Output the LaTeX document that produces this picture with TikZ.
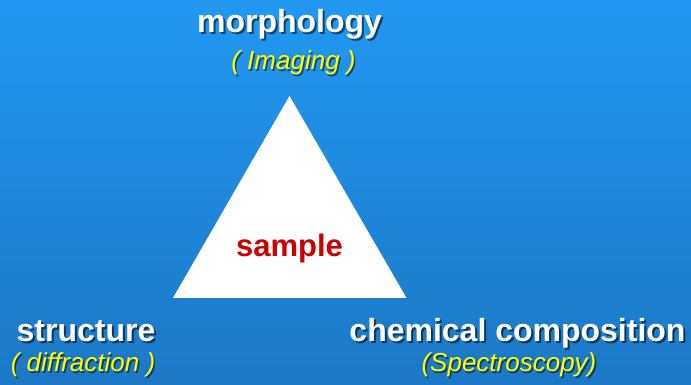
\documentclass[tikz,border=0pt]{standalone}
\usepackage{fontspec}
\setmainfont{Liberation Sans}
\definecolor{bgtop}{RGB}{34,152,242}
\definecolor{bgbot}{RGB}{27,120,198}
\definecolor{labyellow}{RGB}{255,255,0}
\definecolor{samplered}{RGB}{204,0,0}
\tikzset{
  title/.style={font=\fontsize{32}{32}\selectfont\bfseries, text=white, inner sep=0pt, anchor=base},
  titleshadow/.style={font=\fontsize{32}{32}\selectfont\bfseries, text=black, text opacity=0.55, inner sep=0pt, anchor=base},
  sub/.style={font=\fontsize{26}{26}\selectfont\itshape, text=labyellow, inner sep=0pt, anchor=base},
  subshadow/.style={font=\fontsize{26}{26}\selectfont\itshape, text=black, text opacity=0.5, inner sep=0pt, anchor=base},
}
\begin{document}
\begin{tikzpicture}[x=1pt,y=1pt]
\shade[top color=bgtop, bottom color=bgbot] (0,0) rectangle (691,385);
\useasboundingbox (0,0) rectangle (691,385);
% triangle
\coordinate (apex) at (289.5,289);
\coordinate (bl) at (173,87);
\coordinate (br) at (406.5,87);
\fill[white] (apex) -- (bl) -- (br) -- cycle;
\node[font=\fontsize{31}{31}\selectfont\bfseries, text=samplered, inner sep=0pt, anchor=base] (sample) at (289.5,128) {sample};
% morphology
\node[titleshadow] at (291.5,350) {morphology};
\node[title] (morph) at (289.5,352) {morphology};
\node[subshadow] at (295,313) {( Imaging )};
\node[sub] (imaging) at (293.5,315) {( Imaging )};
% structure
\node[titleshadow] at (88,41) {structure};
\node[title] (struct) at (86,43) {structure};
\node[subshadow] at (84.5,11) {( diffraction )};
\node[sub] (diff) at (83,13) {( diffraction )};
% chemical composition
\node[titleshadow] at (519.5,41) {chemical composition};
\node[title] (chem) at (517.5,43) {chemical composition};
\node[subshadow] at (510.5,11) {(Spectroscopy)};
\node[sub] (spec) at (509,13) {(Spectroscopy)};
\end{tikzpicture}
\end{document}
